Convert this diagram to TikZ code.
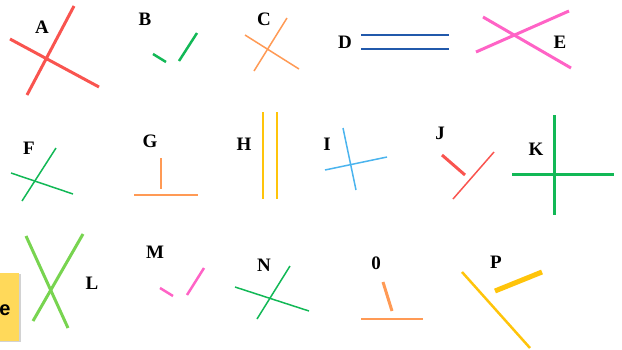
\documentclass[tikz,border=0pt]{standalone}
\usepackage{fontspec}
\setmainfont{Liberation Serif}
\newfontfamily\notefont{Liberation Sans}
\definecolor{cRed}{HTML}{F9544F}
\definecolor{cGreen}{HTML}{12B856}
\definecolor{cOrange}{HTML}{FF9A55}
\definecolor{cBlue}{HTML}{2159AB}
\definecolor{cPink}{HTML}{FF63C6}
\definecolor{cYellow}{HTML}{FFC40A}
\definecolor{cSky}{HTML}{4BB4EE}
\definecolor{cLime}{HTML}{78D450}
\definecolor{cNote}{HTML}{FFD95A}
\tikzset{
  lbl/.style={font=\bfseries\fontsize{19}{19}\selectfont, inner sep=0pt},
  thin line/.style={line width=1.5pt},
  mid line/.style={line width=2.5pt},
  thick line/.style={line width=3pt},
}
\begin{document}
\begin{tikzpicture}[x=1pt,y=-1pt]
\useasboundingbox (0,0) rectangle (622,349);

% sticky note cut at the left edge
\begin{scope}
  \clip (0,0) rectangle (622,349);
  \fill[gray!35] (-40,274) rectangle (21,342);
  \fill[cNote] (-40,273) rectangle (19,341);
  \node[font=\notefont\bfseries\fontsize{20}{20}\selectfont, inner sep=0pt] (note) at (5,310) {e};
\end{scope}

% A
\node[lbl] (A) at (42,27) {A};
\draw[cRed, thick line] (74,6) -- (27,95);
\draw[cRed, thick line] (10,39) -- (99,87);

% B
\node[lbl] (B) at (145,19) {B};
\draw[cGreen, mid line] (153,54) -- (166,62);
\draw[cGreen, mid line] (179,61) -- (197,33);

% C
\node[lbl] (C) at (264,19) {C};
\draw[cOrange, thin line] (287,18) -- (254,71);
\draw[cOrange, thin line] (245,35) -- (299,69);

% D
\node[lbl] (D) at (345,42) {D};
\draw[cBlue, mid line] (361,35) -- (449,35);
\draw[cBlue, mid line] (361,49) -- (449,49);

% E
\node[lbl] (E) at (560,42) {E};
\draw[cPink, thick line] (483,17) -- (571,68);
\draw[cPink, thick line] (476,52) -- (569,11);

% F
\node[lbl] (F) at (29,148) {F};
\draw[cGreen, thin line] (56,148) -- (22,201);
\draw[cGreen, thin line] (11,173) -- (73,194);

% G
\node[lbl] (G) at (150,141) {G};
\draw[cOrange, mid line] (161,158) -- (161,189);
\draw[cOrange, thin line] (134,195) -- (198,195);

% H
\node[lbl] (H) at (244,144) {H};
\draw[cYellow, mid line] (263,112) -- (263,199);
\draw[cYellow, mid line] (277,112) -- (277,199);

% I
\node[lbl] (I) at (327,144) {I};
\draw[cSky, thin line] (343,128) -- (356,190);
\draw[cSky, thin line] (325,170) -- (387,157);

% J
\node[lbl] (J) at (440,133) {J};
\draw[cRed, thick line] (442,155) -- (465,175);
\draw[cRed, thin line] (494,152) -- (453,199);

% K
\node[lbl] (K) at (536,149) {K};
\draw[cGreen, thick line] (554,115) -- (554,215);
\draw[cGreen, thick line] (512,174) -- (614,174);

% L
\node[lbl] (L) at (92,283) {L};
\draw[cLime, thick line] (26,236) -- (68,328);
\draw[cLime, thick line] (83,234) -- (33,321);

% M
\node[lbl] (M) at (155,252) {M};
\draw[cPink, mid line] (160,288) -- (173,296);
\draw[cPink, mid line] (187,295) -- (204,268);

% N
\node[lbl] (N) at (264,265) {N};
\draw[cGreen, thin line] (290,266) -- (257,319);
\draw[cGreen, thin line] (235,287) -- (309,311);

% O
\node[lbl] (O) at (376,263) {0};
\draw[cOrange, thick line] (383,282) -- (392,311);
\draw[cOrange, thin line] (361,319) -- (423,319);

% P
\node[lbl] (P) at (496,262) {P};
\draw[cYellow, line width=5pt] (495,291) -- (542,272);
\draw[cYellow, mid line] (462,272) -- (530,348);
\end{tikzpicture}
\end{document}
